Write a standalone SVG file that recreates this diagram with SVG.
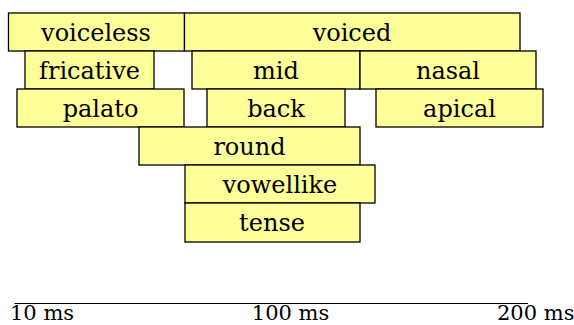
<svg xmlns="http://www.w3.org/2000/svg" width="574" height="325" viewBox="0 0 574 325">
  <style>
    .bar rect { fill: #FFFF99; stroke: #000; stroke-width: 1.3; }
    .bar text { font-family: "DejaVu Serif", serif; font-size: 24px; fill: #000; text-anchor: middle; }
    .axis text { font-family: "DejaVu Serif", serif; font-size: 21px; fill: #000; }
  </style>
  <rect width="574" height="325" fill="#fff"/>

  <!-- feature bars, row by row -->
  <g id="voiceless" class="bar"><rect x="8.5" y="13" width="176" height="38"/><text x="96" y="40.5">voiceless</text></g>
  <g id="voiced" class="bar"><rect x="184.5" y="13" width="335.5" height="38"/><text x="352" y="40.5">voiced</text></g>

  <g id="fricative" class="bar"><rect x="25" y="51" width="129" height="38"/><text x="89.5" y="78.5">fricative</text></g>
  <g id="mid" class="bar"><rect x="192" y="51" width="168" height="38"/><text x="276" y="78.5">mid</text></g>
  <g id="nasal" class="bar"><rect x="360" y="51" width="176" height="38"/><text x="448" y="78.5">nasal</text></g>

  <g id="palato" class="bar"><rect x="17" y="89" width="167" height="38"/><text x="100.5" y="116.5">palato</text></g>
  <g id="back" class="bar"><rect x="207" y="89" width="138" height="38"/><text x="276" y="116.5">back</text></g>
  <g id="apical" class="bar"><rect x="376" y="89" width="167" height="38"/><text x="459.5" y="116.5">apical</text></g>

  <g id="round" class="bar"><rect x="139" y="127" width="221" height="38"/><text x="249.5" y="154.5">round</text></g>
  <g id="vowellike" class="bar"><rect x="185" y="165" width="190" height="38"/><text x="280" y="192.5">vowellike</text></g>
  <g id="tense" class="bar"><rect x="185" y="203" width="175" height="39"/><text x="272" y="231">tense</text></g>

  <!-- time axis -->
  <g id="axis" class="axis">
    <line x1="14.5" y1="303.5" x2="528" y2="303.5" stroke="#000" stroke-width="1.2"/>
    <text x="10" y="320">10 ms</text>
    <text x="290.5" y="320" text-anchor="middle">100 ms</text>
    <text x="497" y="320">200 ms</text>
  </g>
</svg>
